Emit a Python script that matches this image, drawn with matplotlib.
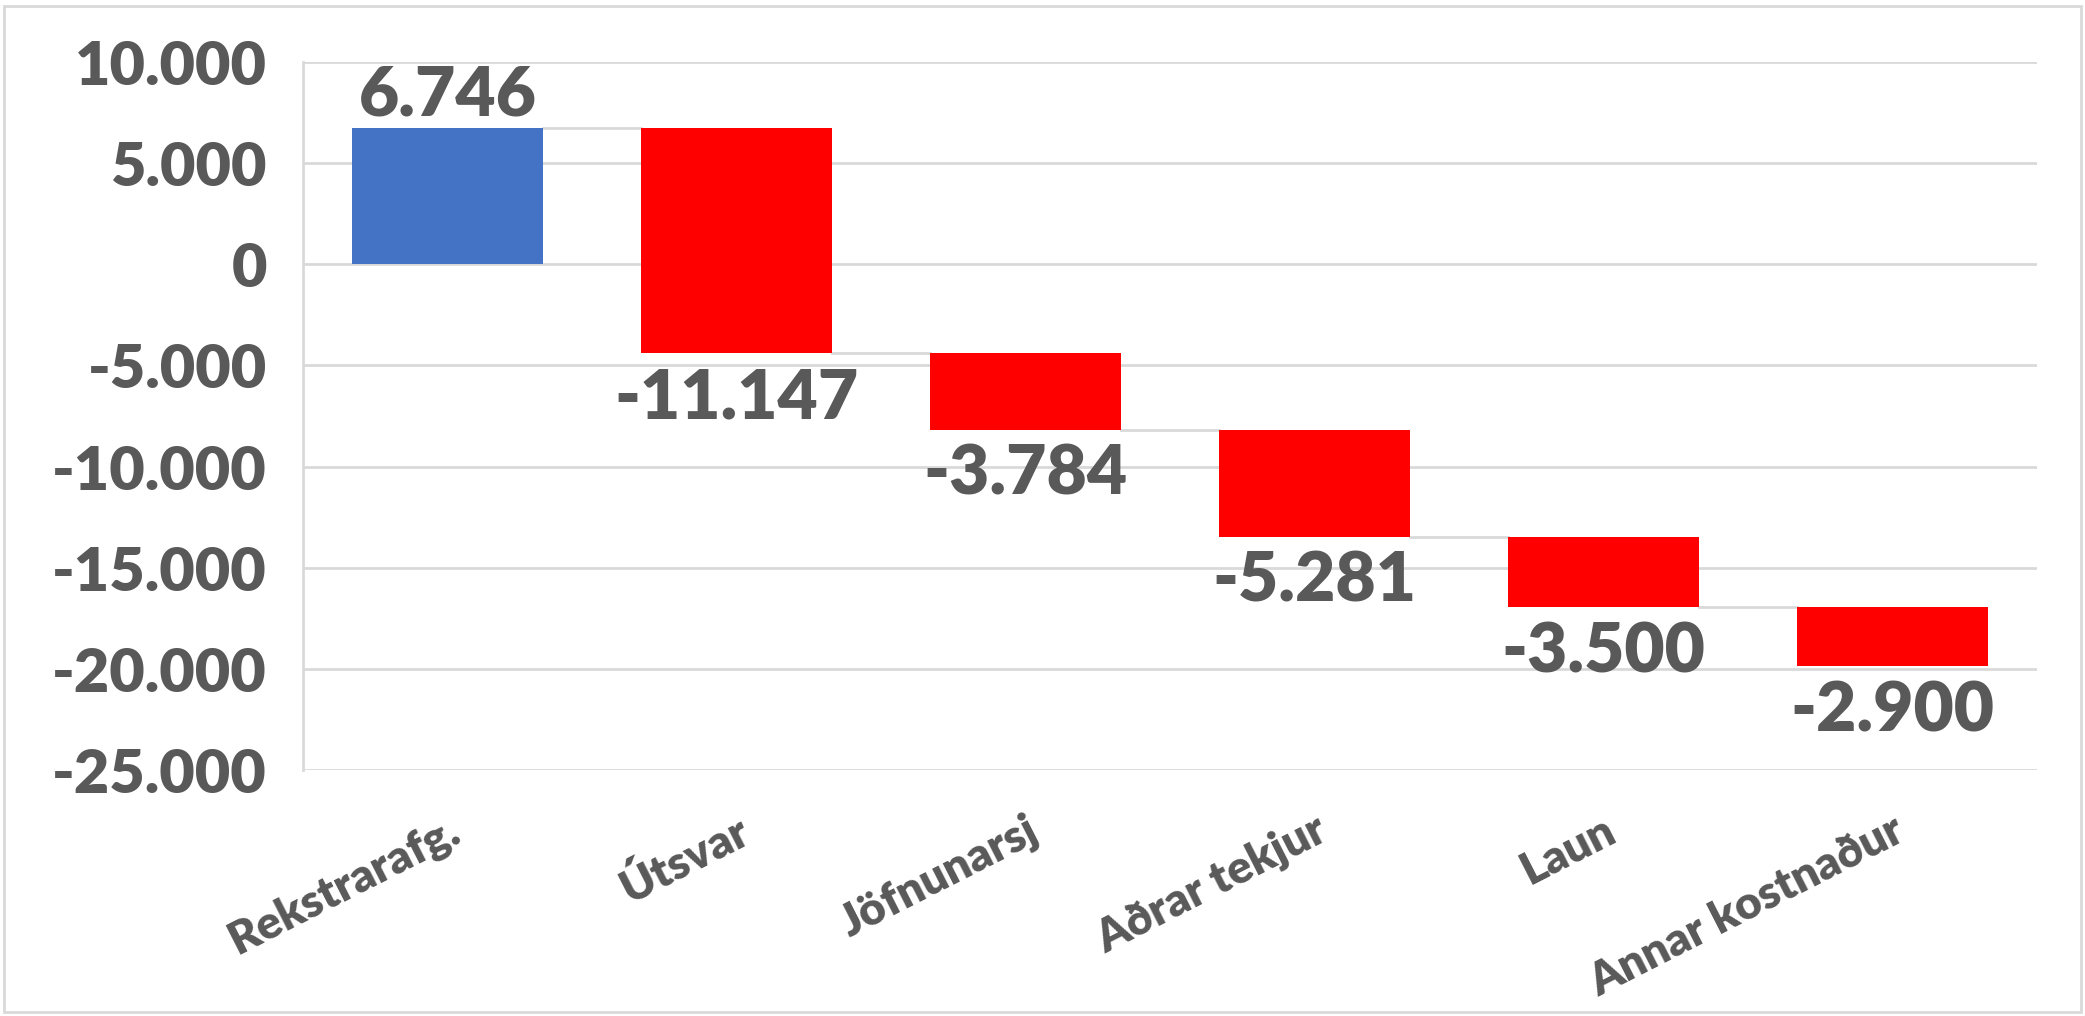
import matplotlib
matplotlib.use("Agg")
import matplotlib.pyplot as plt
from matplotlib.patches import Rectangle

# data
categories = ["Rekstrarafg.", "Útsvar", "Jöfnunarsj", "Aðrar tekjur", "Laun", "Annar kostnaður"]
changes = [6746, -11147, -3784, -5281, -3500, -2900]
yticks = [10000, 5000, 0, -5000, -10000, -15000, -20000, -25000]

BLUE = "#4472C4"
RED = "#FF0000"
GREY_TXT = "#595959"
GRID = "#D9D9D9"

plt.rcParams["font.family"] = ["Lato", "DejaVu Sans"]


def fmt(v):
    return f"{v:,}".replace(",", ".")


# waterfall starts / ends
starts = []
ends = []
run = 0
for v in changes:
    starts.append(run)
    run += v
    ends.append(run)

fig = plt.figure(figsize=(20.85, 10.16), dpi=100)
ax = fig.add_axes([0.1453, 0.2421, 0.8317, 0.6969])

x = list(range(len(categories)))
w = 0.66
colors = [BLUE] + [RED] * (len(changes) - 1)
ax.bar(x, changes, bottom=starts, width=w, color=colors, zorder=3)

# connector lines
for i in range(len(changes) - 1):
    ax.plot([i + w / 2, i + 1 - w / 2], [ends[i], ends[i]], color=GRID, lw=2, zorder=2)

# value labels
for i, v in enumerate(changes):
    if v >= 0:
        ax.annotate(fmt(v), (i, ends[i]), xytext=(0, 0), textcoords="offset points",
                    ha="center", va="bottom", fontsize=50, fontweight="heavy", color=GREY_TXT)
    else:
        ax.annotate(fmt(v), (i, ends[i]), xytext=(0, -10), textcoords="offset points",
                    ha="center", va="top", fontsize=50, fontweight="heavy", color=GREY_TXT)

ax.set_xlim(-0.5, len(categories) - 0.5)
ax.set_ylim(-25000, 10000)
ax.set_yticks(yticks)
ax.set_yticklabels([fmt(t) for t in yticks], fontsize=44, fontweight="heavy", color=GREY_TXT)
ax.set_xticks(x)
ax.set_xticklabels(categories, rotation=27, ha="right", rotation_mode="anchor",
                   fontsize=33, fontweight="heavy", color=GREY_TXT)
ax.tick_params(axis="y", length=0, pad=26)
ax.tick_params(axis="x", length=0, pad=28)

ax.grid(axis="y", color=GRID, lw=2, zorder=0)
for s in ["top", "right", "bottom"]:
    ax.spines[s].set_visible(False)
ax.spines["left"].set_color(GRID)
ax.spines["left"].set_linewidth(2)

# chart border
fig.patches.append(Rectangle((0.002, 0.004), 0.996, 0.99, transform=fig.transFigure,
                             fill=False, edgecolor=GRID, lw=2))

fig.savefig("out.png", dpi=100)
